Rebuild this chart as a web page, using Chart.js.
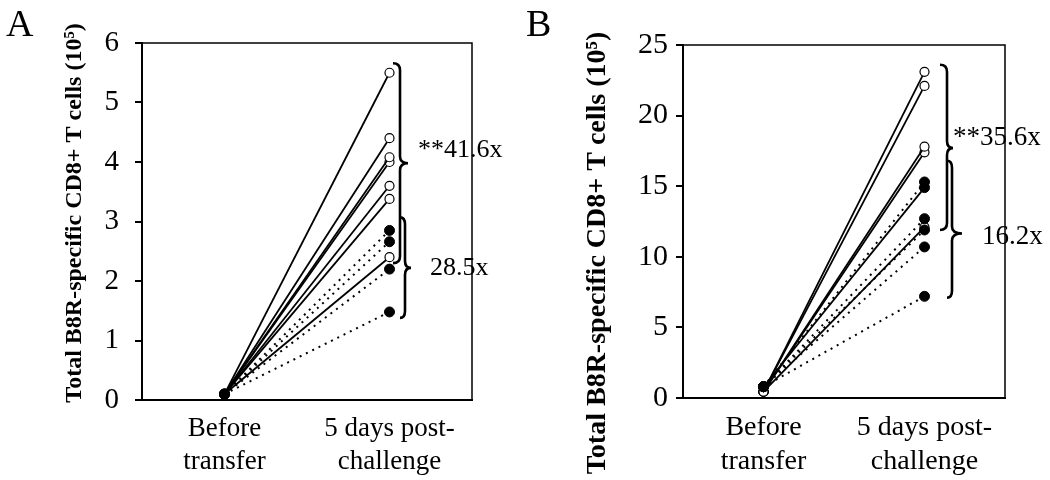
<!DOCTYPE html>
<html>
<head>
<meta charset="utf-8">
<script src="https://cdn.jsdelivr.net/npm/chart.js@4.4.0/dist/chart.umd.min.js"></script>
<style>
  body { margin: 0; background: #fff; }
  .panel { position: absolute; top: 0; width: 525px; height: 480px; }
</style>
</head>
<body>
<div class="panel" style="left:0"><canvas id="chartA" width="525" height="480"></canvas></div>
<div class="panel" style="left:525px"><canvas id="chartB" width="525" height="480"></canvas></div>
<script>
// categories (multi-line labels)
const categories = [['Before', 'transfer'], ['5 days post-', 'challenge']];
const yTitle = 'Total B8R-specific CD8+ T cells (10⁵)';

// panel A values (10^5 cells)
const aOpenBefore = 0.1;
const aFilledBefore = 0.1;
const aOpenAfter = [5.5, 4.4, 4.08, 4.0, 3.6, 3.38, 2.4];
const aFilledAfter = [2.85, 2.66, 2.2, 1.48];
const aTicks = [0, 1, 2, 3, 4, 5, 6];
const aFoldLabels = ['**41.6x', '28.5x'];
const aBraceRanges = [[5.66, 3.98, 2.3], [3.07, 2.22, 1.38]]; // top, tip, bottom
const aLabelValues = [4.2, 2.22];

// panel B values (10^5 cells)
const bOpenBefore = 0.45;
const bFilledBefore = 0.8;
const bOpenAfter = [23.1, 22.1, 17.8, 17.4, 12.1];
const bFilledAfter = [15.3, 14.9, 12.7, 11.9, 10.7, 7.2];
const bFilledSolid = [false, true, false, false, false, false];
const bTicks = [0, 5, 10, 15, 20, 25];
const bFoldLabels = ['**35.6x', '16.2x'];
const bBraceRanges = [[23.6, 17.7, 11.9], [16.8, 11.65, 7.1]];
const bLabelValues = [18.4, 11.4];

const SERIF = '"Liberation Serif", "Times New Roman", serif';

// one dataset per animal; filled first so they sit on top
function buildSets(openBefore, openAfter, filledBefore, filledAfter, filledSolid) {
  const sets = [];
  filledAfter.forEach((v, i) => {
    const solid = filledSolid && filledSolid[i];
    sets.push({
      data: [filledBefore, v],
      borderColor: '#000',
      borderWidth: solid ? 1.8 : 2,
      borderDash: solid ? [] : [2, 5],
      pointRadius: 5,
      pointBackgroundColor: '#000',
      pointBorderColor: '#000',
      pointBorderWidth: 1
    });
  });
  openAfter.forEach(v => {
    sets.push({
      data: [openBefore, v],
      borderColor: '#000',
      borderWidth: 1.8,
      pointRadius: 4.5,
      pointBackgroundColor: '#fff',
      pointBorderColor: '#000',
      pointBorderWidth: 1.2
    });
  });
  return sets;
}

function drawBrace(ctx, x0, xm, xt, yTop, yTip, yBot) {
  const r = 7;
  ctx.beginPath();
  ctx.moveTo(x0, yTop);
  ctx.quadraticCurveTo(xm, yTop, xm, yTop + r);
  ctx.lineTo(xm, yTip - r);
  ctx.quadraticCurveTo(xm, yTip, xt, yTip);
  ctx.quadraticCurveTo(xm, yTip, xm, yTip + r);
  ctx.lineTo(xm, yBot - r);
  ctx.quadraticCurveTo(xm, yBot, x0, yBot);
  ctx.stroke();
}

// braces, fold labels, axis title, panel letter, top/right frame
const decor = {
  id: 'decor',
  afterDraw(chart, args, o) {
    const ctx = chart.ctx;
    const area = chart.chartArea;
    const xs = chart.scales.x, ys = chart.scales.y;
    const cx = xs.getPixelForValue(1);
    ctx.save();
    ctx.strokeStyle = '#000';
    ctx.fillStyle = '#000';
    ctx.lineWidth = 2.6;
    o.braces.forEach((b, i) => {
      const r = o.ranges[i];
      drawBrace(ctx, cx + b[0], cx + b[1], cx + b[2],
        ys.getPixelForValue(r[0]), ys.getPixelForValue(r[1]), ys.getPixelForValue(r[2]));
    });
    ctx.font = o.labelSize + 'px ' + SERIF;
    ctx.textBaseline = 'middle';
    ctx.textAlign = 'left';
    o.labels.forEach((t, i) => {
      ctx.fillText(t, cx + o.labelX[i], ys.getPixelForValue(o.labelValues[i]));
    });
    // y title
    ctx.save();
    ctx.translate(o.titleX, o.titleY);
    ctx.rotate(-Math.PI / 2);
    ctx.textAlign = 'center';
    ctx.font = 'bold ' + o.titleSize + 'px ' + SERIF;
    ctx.fillText(yTitle, 0, 0);
    ctx.restore();
    // letter
    ctx.font = '38px ' + SERIF;
    ctx.textBaseline = 'alphabetic';
    ctx.fillText(o.letter, o.letterX, 36);
    // frame
    ctx.lineWidth = 1.5;
    ctx.beginPath();
    ctx.moveTo(area.left, area.top);
    ctx.lineTo(area.right, area.top);
    ctx.lineTo(area.right, area.bottom);
    ctx.stroke();
    ctx.restore();
  }
};

function makeChart(id, sets, ticks, cfg) {
  return new Chart(document.getElementById(id), {
    type: 'line',
    data: { labels: categories, datasets: sets },
    plugins: [decor],
    options: {
      responsive: false,
      animation: false,
      layout: { padding: { left: 0, right: cfg.padRight, top: cfg.padTop, bottom: 0 } },
      elements: { line: { tension: 0 } },
      plugins: {
        legend: { display: false },
        tooltip: { enabled: false },
        decor: cfg.decor
      },
      scales: {
        x: {
          offset: true,
          grid: { display: false },
          border: { display: true, color: '#000', width: 2 },
          ticks: {
            color: '#000', padding: 5, maxRotation: 0, autoSkip: false,
            font: { family: SERIF, size: cfg.catSize, lineHeight: 1.2 }
          },
          afterFit(s) { s.height = cfg.xHeight; }
        },
        y: {
          min: ticks[0],
          max: ticks[ticks.length - 1],
          ticks: {
            stepSize: ticks[1] - ticks[0], color: '#000', padding: cfg.tickPad,
            font: { family: SERIF, size: cfg.tickSize }
          },
          grid: { drawOnChartArea: false, drawTicks: true, tickLength: 7, color: '#000', lineWidth: 2 },
          border: { display: true, color: '#000', width: 2 },
          afterFit(s) { s.width = cfg.yWidth; }
        }
      }
    }
  });
}

makeChart('chartA', buildSets(aOpenBefore, aOpenAfter, aFilledBefore, aFilledAfter, null), aTicks, {
  padRight: 53, padTop: 43, xHeight: 80, yWidth: 142, tickPad: 16, tickSize: 29, catSize: 27,
  decor: {
    letter: 'A', letterX: 6, titleX: 75, titleY: 213, titleSize: 24,
    braces: [[3.5, 10.5, 18.5], [10.5, 15.5, 21.5]], ranges: aBraceRanges,
    labels: aFoldLabels, labelValues: aLabelValues, labelX: [28.5, 40.5], labelSize: 26
  }
});

makeChart('chartB', buildSets(bOpenBefore, bOpenAfter, bFilledBefore, bFilledAfter, bFilledSolid), bTicks, {
  padRight: 45, padTop: 45, xHeight: 82, yWidth: 158, tickPad: 8, tickSize: 30, catSize: 28,
  decor: {
    letter: 'B', letterX: 1, titleX: 73, titleY: 253, titleSize: 28,
    braces: [[15.5, 22.5, 28.5], [22.5, 27.5, 37.5]], ranges: bBraceRanges,
    labels: bFoldLabels, labelValues: bLabelValues, labelX: [28.5, 57.5], labelSize: 27
  }
});
</script>
</body>
</html>
